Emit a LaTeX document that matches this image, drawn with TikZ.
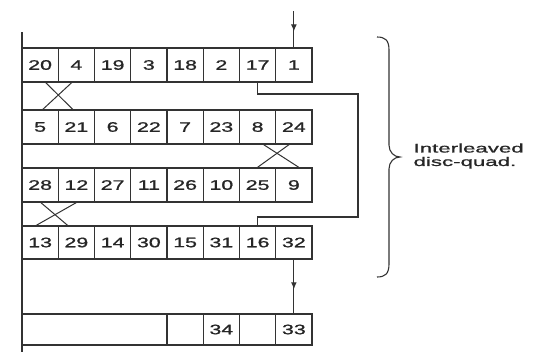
\documentclass[tikz,border=0pt]{standalone}
\usepackage{fontspec}
\setmainfont{Liberation Sans}
\newfontfamily\cellfont{Liberation Sans}[FakeBold=0.9]
\usetikzlibrary{arrows.meta,decorations.markings}
\newcommand\widetxt[1]{\scalebox{1.55}[1]{#1}}
\begin{document}
\begin{tikzpicture}[x=1pt,y=-1pt,
  line width=1.2pt, draw=black!80,
  cell/.style={draw, minimum width=36.25pt, minimum height=34pt, inner sep=0pt, outer sep=0pt,
    font=\cellfont\fontsize{13.8}{14}\selectfont, text=black!85},
  crossline/.style={line width=1pt},
  midarrow/.style={postaction={decorate}, decoration={markings,
    mark=at position 0.55 with {\arrow{Latex[length=7pt,width=6pt]}}}}
]
\useasboundingbox (0,0) rectangle (538,351);
% rows of cells
\foreach \t [count=\i] in {20,4,19,3,18,2,17,1}
  \node[cell] (r1c\i) at ({22+36.25*(\i-0.5)},65) {\widetxt{\t}};
\foreach \t [count=\i] in {5,21,6,22,7,23,8,24}
  \node[cell] (r2c\i) at ({22+36.25*(\i-0.5)},127) {\widetxt{\t}};
\foreach \t [count=\i] in {28,12,27,11,26,10,25,9}
  \node[cell] (r3c\i) at ({22+36.25*(\i-0.5)},185) {\widetxt{\t}};
\foreach \t [count=\i] in {13,29,14,30,15,31,16,32}
  \node[cell, minimum height=33pt] (r4c\i) at ({22+36.25*(\i-0.5)},242.5) {\widetxt{\t}};
% bottom row
\node[cell, minimum width=145pt, minimum height=31pt] (r5a) at (94.5,329.5) {};
\node[cell, minimum height=31pt] (r5b) at (185.125,329.5) {};
\node[cell, minimum height=31pt] (r5c) at (221.375,329.5) {\widetxt{34}};
\node[cell, minimum height=31pt] (r5d) at (257.625,329.5) {};
\node[cell, minimum height=31pt] (r5e) at (293.875,329.5) {\widetxt{33}};
% left vertical bar
\coordinate (bartop) at (22,32);
\coordinate (barbot) at (22,352);
\draw[line width=1.7pt] (bartop) -- (barbot);
% crossings
\draw[crossline] ([xshift=5pt]r1c1.south) -- ([xshift=-3pt]r2c2.north);
\draw[crossline] ([xshift=-4pt]r1c2.south) -- ([xshift=2pt]r2c1.north);
\draw[crossline] ([xshift=5pt]r2c7.south) -- ([xshift=6pt]r3c8.north);
\draw[crossline] ([xshift=-4pt]r2c8.south) -- ([xshift=-1pt]r3c7.north);
\draw[crossline] ([xshift=0pt]r3c1.south) -- ([xshift=-8pt]r4c2.north);
\draw[crossline] ([xshift=1pt]r3c2.south) -- ([xshift=-5pt]r4c1.north);
% loop from 17 to 16
\coordinate (lp1) at (358,94);
\coordinate (lp2) at (358,217);
\draw (r1c7.south) |- (lp1) -- (lp2) -| (r4c7.north);
% input arrow
\coordinate (in1) at (293.875,11);
\draw[midarrow] (in1) -- (r1c8.north);
% 32 -> 33
\draw[midarrow] (r4c8.south) -- (r5e.north);
% brace
\coordinate (brtop) at (377,37);
\coordinate (brtip) at (400,157);
\coordinate (brbot) at (377,277);
\draw[line width=1.1pt] (brtop) .. controls (385,37) and (389,40) .. (389,50)
  -- (389,145) .. controls (389,152) and (394,157) .. (brtip)
  .. controls (394,157) and (389,162) .. (389,169)
  -- (389,264) .. controls (389,274) and (385,277) .. (brbot);
\node[anchor=west, align=left, inner sep=0pt, font=\cellfont\fontsize{12.5}{13.5}\selectfont, text=black!85]
  (lbl) at (413,156) {\scalebox{1.78}[1]{Interleaved}\\\scalebox{1.78}[1]{disc-quad.}};
\end{tikzpicture}
\end{document}
